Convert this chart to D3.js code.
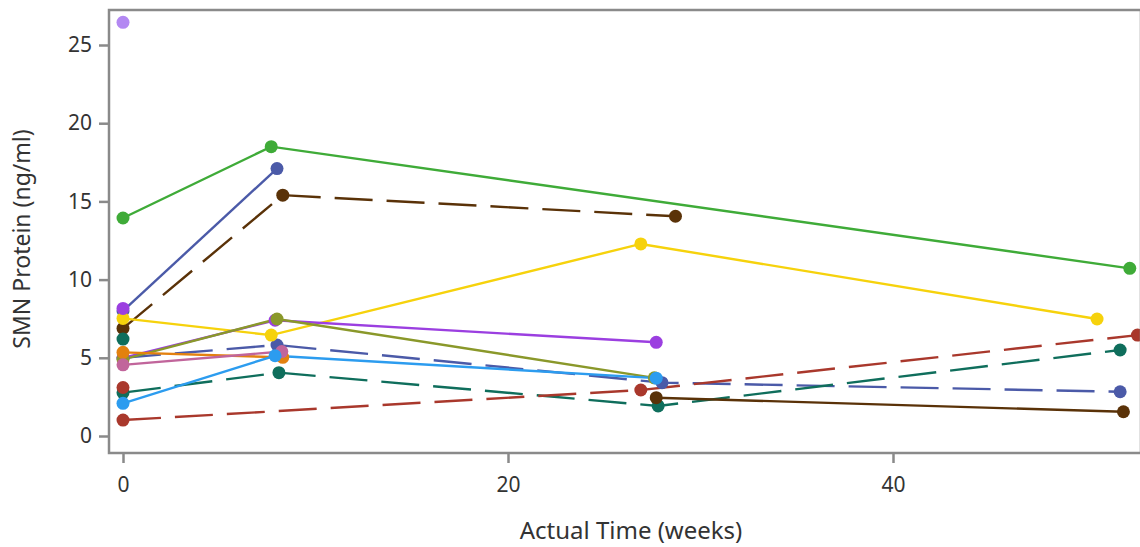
<!DOCTYPE html>
<html>
<head>
<meta charset="utf-8">
<script src="https://cdn.jsdelivr.net/npm/d3@7"></script>
<style>
  html, body { margin: 0; padding: 0; background: #fff; }
  svg { display: block; }
  text { font-family: "Noto Sans", "Open Sans", sans-serif; fill: #333; }
</style>
</head>
<body>
<svg id="chart" width="1140" height="547"></svg>
<script>
// SMN protein per subject over time (weeks, ng/ml)
const subjectIds = ["S13","S01","S02","S03","S04","S05","S06","S07","S08","S09","S10","S11","S12","S14","S15"];
const subjectColors = ["#4b5aa8","#3fab38","#4b5aa8","#5a3208","#f6d20c","#9b3fe0","#8a982a","#0f6e5c","#e3810f","#c1659b","#2c9cef","#a9382c","#5a3208","#b388f2","#0f6e5c"];
const subjectDashed = [true,false,false,true,false,false,false,true,false,false,false,true,false,false,false];
const weeks = [
  [0, 8.0, 28.0, 51.8],
  [0, 7.7, 52.3],
  [0, 8.0],
  [0, 8.3, 28.7],
  [0, 7.7, 26.9, 50.6],
  [0, 7.9, 27.7],
  [0, 8.0, 27.6],
  [0, 8.1, 27.8, 51.8],
  [0, 8.3],
  [0, 8.25],
  [0, 7.9, 27.7],
  [0, 26.9, 52.7],
  [27.7, 51.97],
  [0],
  [0]
];
const smn = [
  [5.0, 5.82, 3.41, 2.83],
  [13.94, 18.5, 10.72],
  [8.0, 17.1],
  [6.88, 15.4, 14.05],
  [7.52, 6.45, 12.28, 7.48],
  [5.0, 7.4, 5.99],
  [4.9, 7.48, 3.72],
  [2.77, 4.05, 1.92, 5.5],
  [5.35, 5.03],
  [4.55, 5.4],
  [2.09, 5.13, 3.7],
  [1.02, 2.94, 6.45],
  [2.45, 1.55],
  [26.45],
  [6.2]
];
// lone baseline readings
const extraIds = ["S16", "S17"];
const extraColors = ["#9b3fe0", "#a9382c"];
const extraWeeks = [0, 0];
const extraSmn = [8.16, 3.1];

const xTicks = [0, 20, 40];
const yTicks = [0, 5, 10, 15, 20, 25];

const svg = d3.select("#chart");
const frame = { left: 109, right: 1141, top: 10, bottom: 453 };

const x = d3.scaleLinear().domain([0, 20]).range([123, 508]);
const y = d3.scaleLinear().domain([0, 25]).range([436, 45]);

const series = subjectIds.map((id, i) => ({
  id, color: subjectColors[i], dashed: subjectDashed[i],
  pts: weeks[i].map((w, j) => ({ w, v: smn[i][j] }))
}));

svg.append("defs").append("clipPath").attr("id", "plotclip")
  .append("rect")
  .attr("x", frame.left).attr("y", frame.top)
  .attr("width", frame.right - frame.left).attr("height", frame.bottom - frame.top);

const plot = svg.append("g").attr("clip-path", "url(#plotclip)");

const line = d3.line().x(d => x(d.w)).y(d => y(d.v));

plot.selectAll("path.subject")
  .data(series)
  .join("path")
  .attr("class", "subject")
  .attr("d", d => line(d.pts))
  .attr("fill", "none")
  .attr("stroke", d => d.color)
  .attr("stroke-width", 2.4)
  .attr("stroke-dasharray", d => d.dashed ? "38,14" : null);

series.forEach(s => {
  plot.selectAll(null)
    .data(s.pts)
    .join("circle")
    .attr("cx", d => x(d.w))
    .attr("cy", d => y(d.v))
    .attr("r", 6.5)
    .attr("fill", s.color);
});

plot.selectAll("circle.extra")
  .data(extraIds.map((id, i) => ({ id, color: extraColors[i], w: extraWeeks[i], v: extraSmn[i] })))
  .join("circle")
  .attr("class", "extra")
  .attr("cx", d => x(d.w))
  .attr("cy", d => y(d.v))
  .attr("r", 6.5)
  .attr("fill", d => d.color);

// frame
svg.append("rect")
  .attr("x", frame.left).attr("y", frame.top)
  .attr("width", frame.right - frame.left).attr("height", frame.bottom - frame.top)
  .attr("fill", "none").attr("stroke", "#8a8a8a").attr("stroke-width", 2.5);

// axes
const xAxis = svg.append("g")
  .attr("transform", `translate(0,${frame.bottom})`)
  .call(d3.axisBottom(x).tickValues(xTicks).tickSize(10).tickPadding(14).tickFormat(d3.format("d")));
const yAxis = svg.append("g")
  .attr("transform", `translate(${frame.left},0)`)
  .call(d3.axisLeft(y).tickValues(yTicks).tickSize(10).tickPadding(7).tickFormat(d3.format("d")));

[xAxis, yAxis].forEach(g => {
  g.select(".domain").remove();
  g.selectAll(".tick line").attr("stroke", "#8a8a8a").attr("stroke-width", 2.5);
  g.selectAll(".tick text").attr("font-size", 21).style("fill", "#333");
});

svg.append("text")
  .attr("x", 631).attr("y", 539)
  .attr("text-anchor", "middle")
  .attr("font-size", 24)
  .text("Actual Time (weeks)");

svg.append("text")
  .attr("transform", "translate(30,239) rotate(-90)")
  .attr("text-anchor", "middle")
  .attr("font-size", 23)
  .text("SMN Protein (ng/ml)");
</script>
</body>
</html>
